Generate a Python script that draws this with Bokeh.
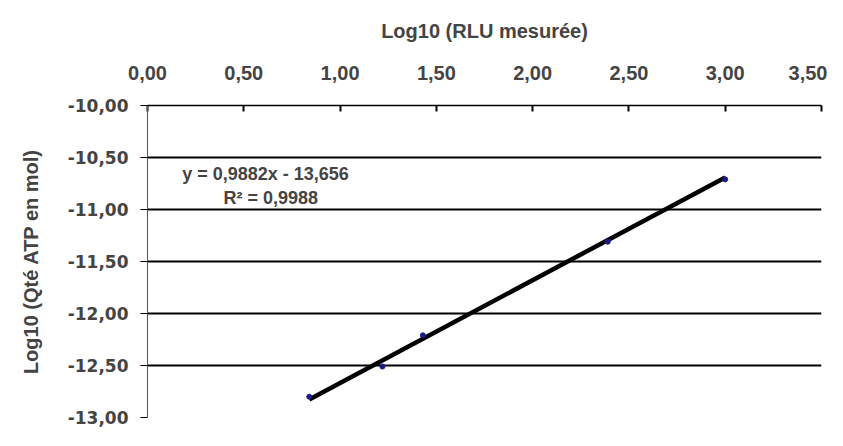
from bokeh.plotting import figure
from bokeh.models import ColumnDataSource, Label, FixedTicker, Range1d
from bokeh.embed import file_html
from bokeh.resources import INLINE

# ---- data ----
x_vals = [0.84, 1.22, 1.43, 2.39, 3.00]
y_vals = [-12.80, -12.51, -12.21, -11.31, -10.71]
slope = 0.9882
intercept = -13.656
r2 = 0.9988

x_ticks = [0.0, 0.5, 1.0, 1.5, 2.0, 2.5, 3.0, 3.5]
x_tick_labels = ["0,00", "0,50", "1,00", "1,50", "2,00", "2,50", "3,00", "3,50"]
y_ticks = [-13.0, -12.5, -12.0, -11.5, -11.0, -10.5, -10.0]
y_tick_labels = ["-13,00", "-12,50", "-12,00", "-11,50", "-11,00", "-10,50", "-10,00"]

x_title = "Log10 (RLU mesurée)"
y_title = "Log10 (Qté ATP en mol)"

FONT = "Liberation Sans"
FONT_Y = "DejaVu Sans"

p = figure(width=827, height=430, output_backend="svg", toolbar_location=None,
           x_axis_location="above",
           x_range=Range1d(0, 3.5), y_range=Range1d(-13, -10),
           min_border_left=147, min_border_right=6, min_border_top=105, min_border_bottom=13)
p.outline_line_color = None
p.background_fill_color = "white"
p.border_fill_color = "white"

# x axis (top)
xa = p.xaxis[0]
xa.ticker = FixedTicker(ticks=x_ticks)
xa.major_label_overrides = {t: l for t, l in zip(x_ticks, x_tick_labels)}
xa.axis_label = x_title
xa.axis_label_text_font = FONT
xa.axis_label_text_font_style = "bold"
xa.axis_label_text_font_size = "20px"
xa.axis_label_standoff = 21
xa.major_label_text_font = FONT
xa.major_label_text_font_style = "bold"
xa.major_label_text_font_size = "20px"
xa.major_label_standoff = 26
xa.major_tick_in = 6
xa.major_tick_out = 0
xa.minor_tick_in = 0
xa.minor_tick_out = 0
xa.axis_line_color = "black"
xa.axis_line_width = 1.5
xa.major_tick_line_color = "black"
xa.major_tick_line_width = 2

# y axis (left)
ya = p.yaxis[0]
ya.ticker = FixedTicker(ticks=y_ticks)
ya.major_label_overrides = {t: l for t, l in zip(y_ticks, y_tick_labels)}
ya.axis_label = y_title
ya.axis_label_text_font = FONT
ya.axis_label_text_font_style = "bold"
ya.axis_label_text_font_size = "20px"
ya.axis_label_standoff = 23
ya.major_label_text_font = FONT_Y
ya.major_label_text_font_style = "bold"
ya.major_label_text_font_size = "17px"
ya.major_label_standoff = 12
ya.major_tick_in = 0
ya.major_tick_out = 7
ya.minor_tick_in = 0
ya.minor_tick_out = 0
ya.axis_line_color = "#555555"
ya.axis_line_width = 1
ya.major_tick_line_color = "black"

p.xgrid.grid_line_color = None
p.ygrid.ticker = FixedTicker(ticks=y_ticks[1:-1])
p.ygrid.grid_line_color = "black"
p.ygrid.grid_line_width = 2

# trend line
x0, x1 = min(x_vals), max(x_vals)
trend = ColumnDataSource(dict(x=[x0, x1], y=[slope * x0 + intercept, slope * x1 + intercept]))
p.line("x", "y", source=trend, line_color="black", line_width=4.5)

# points
src = ColumnDataSource(dict(x=x_vals, y=y_vals))
p.scatter("x", "y", source=src, size=5, fill_color="#1a1a8c", line_color="#1a1a8c")

eq = "y = " + f"{slope:.4f}".replace(".", ",") + "x - " + f"{abs(intercept):.3f}".replace(".", ",")
r2t = "R² = " + f"{r2:.4f}".replace(".", ",")
p.add_layout(Label(x=0.613, y=-10.655, text=eq, text_align="center", text_baseline="middle",
                   text_font=FONT, text_font_style="bold", text_font_size="18px"))
p.add_layout(Label(x=0.64, y=-10.89, text=r2t, text_align="center", text_baseline="middle",
                   text_font=FONT, text_font_style="bold", text_font_size="18px"))

open("out.html", "w").write(file_html(p, INLINE))
